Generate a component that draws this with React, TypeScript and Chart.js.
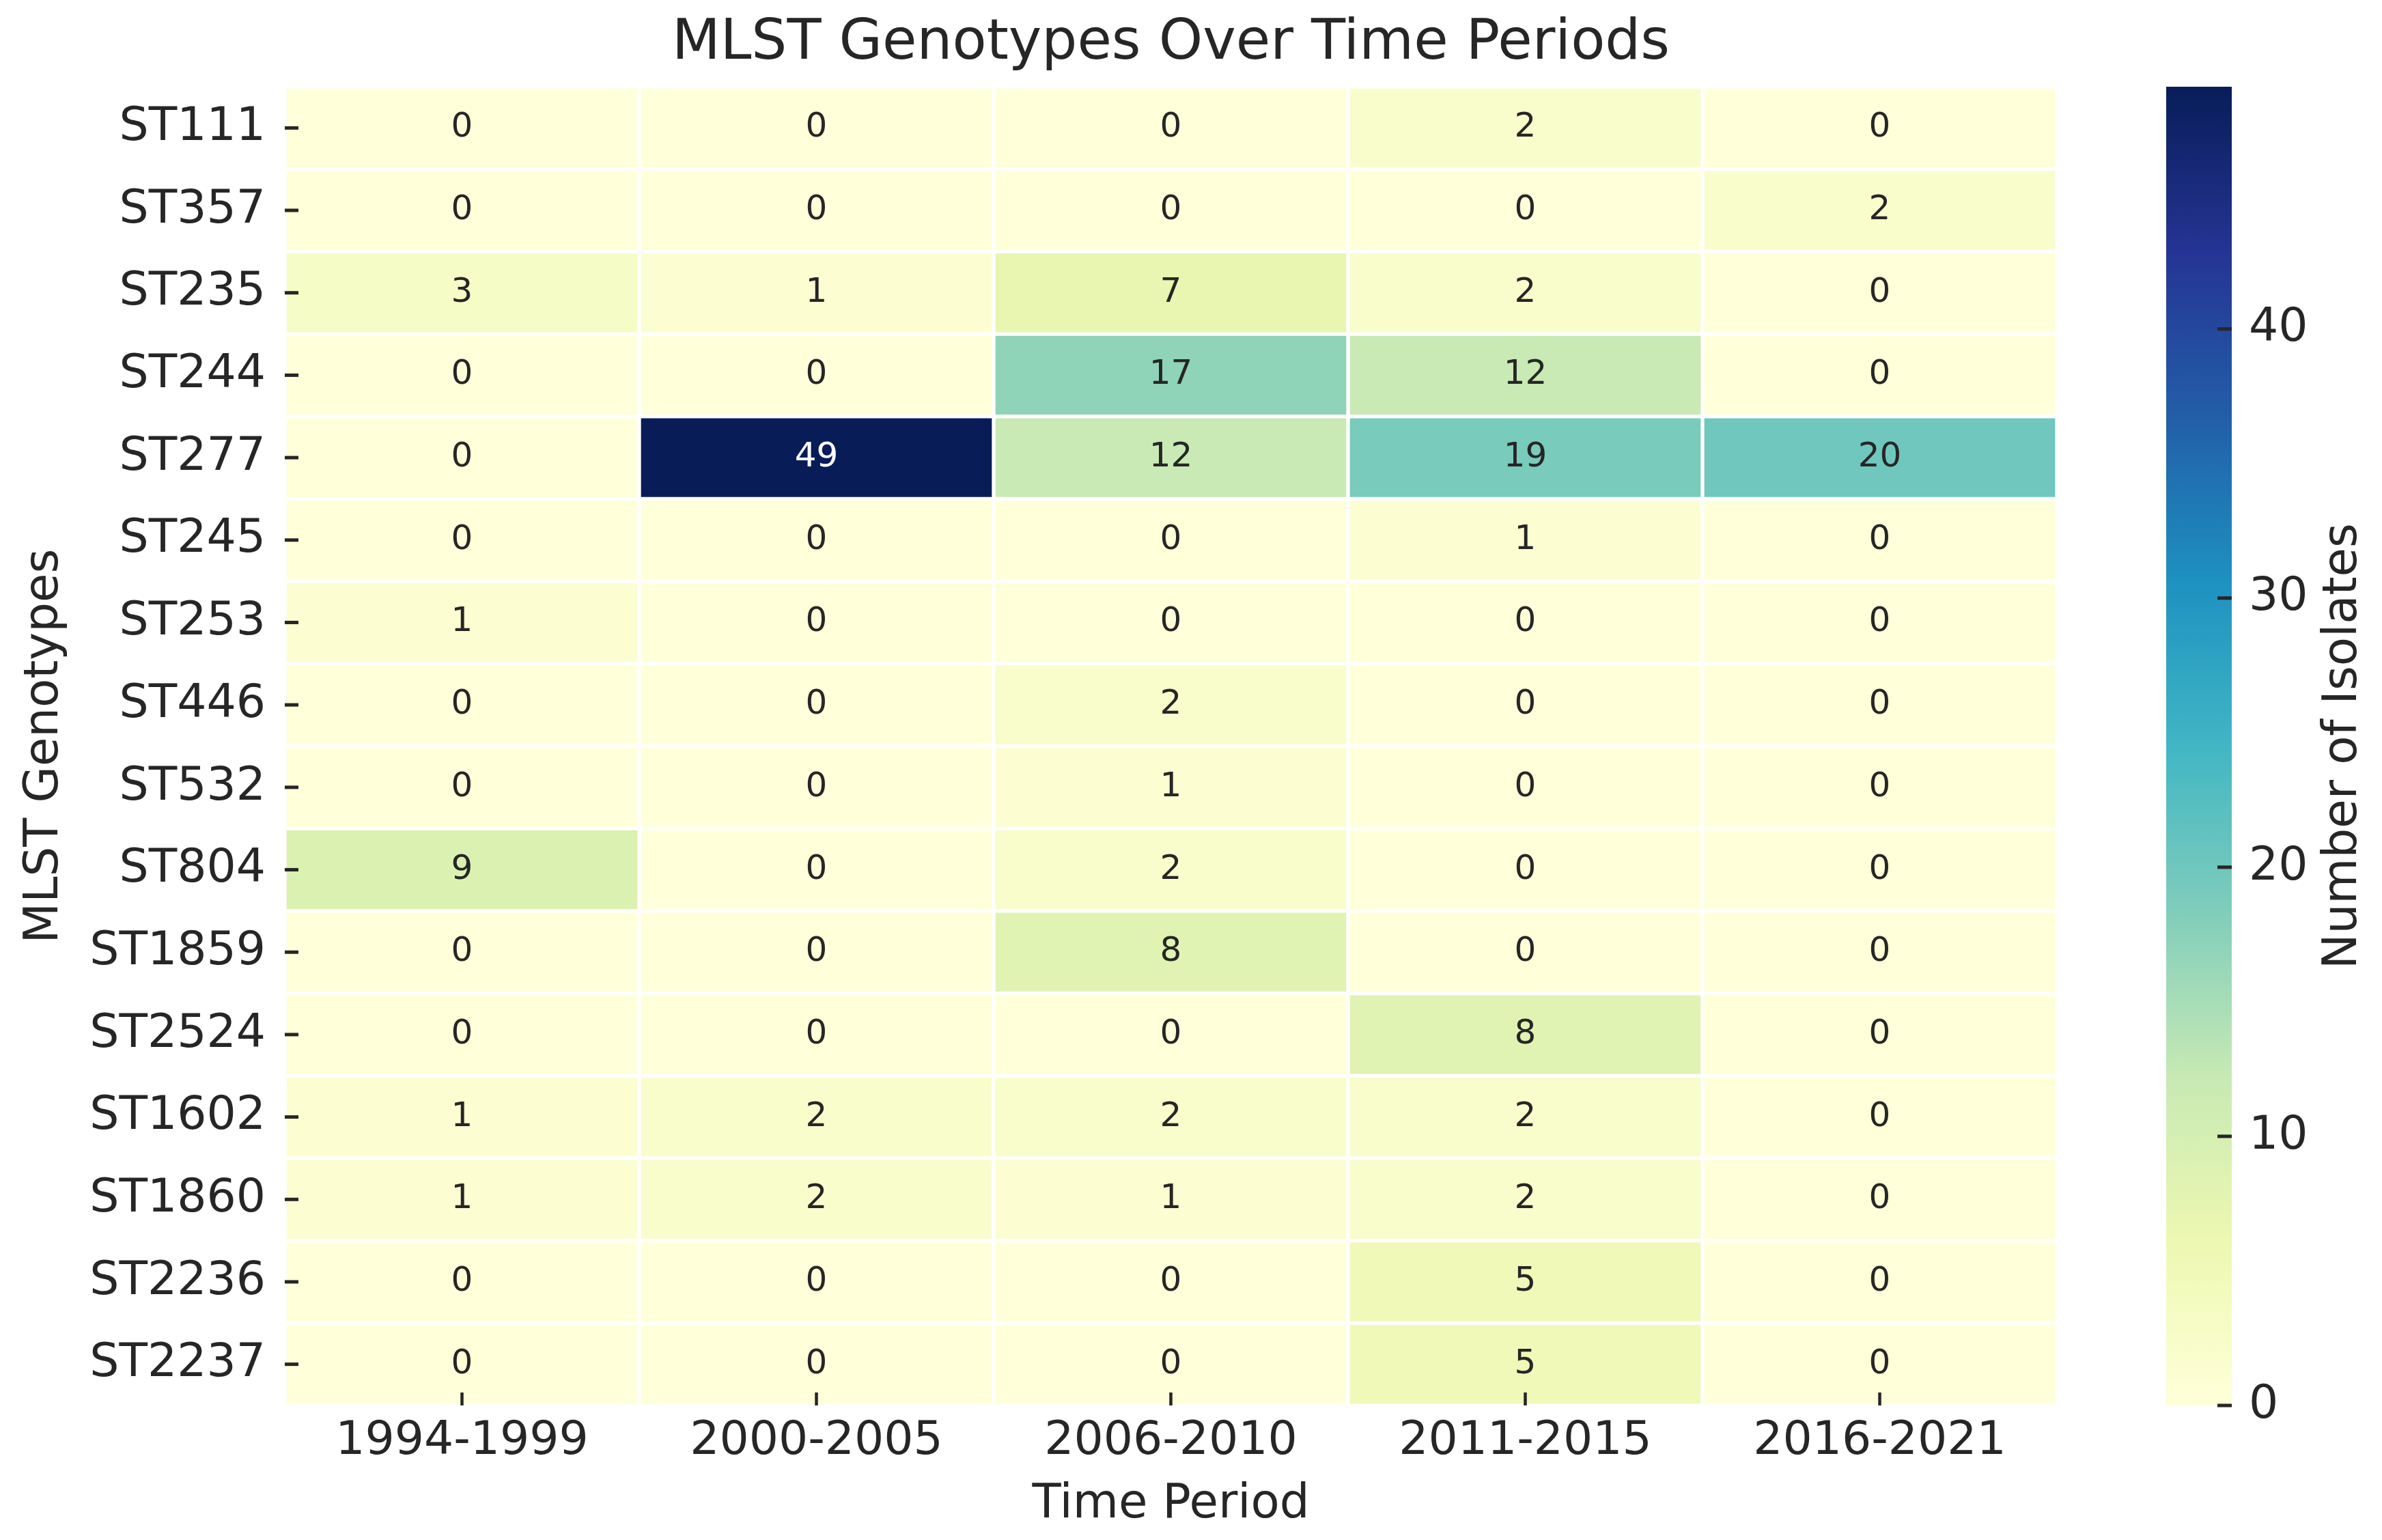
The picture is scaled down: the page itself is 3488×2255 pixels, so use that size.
import React, { useEffect, useRef } from "react";
import { Chart, registerables } from "chart.js";

Chart.register(...registerables);

const genotypes = [
  "ST111", "ST357", "ST235", "ST244", "ST277", "ST245", "ST253", "ST446",
  "ST532", "ST804", "ST1859", "ST2524", "ST1602", "ST1860", "ST2236", "ST2237",
];
const periods = ["1994-1999", "2000-2005", "2006-2010", "2011-2015", "2016-2021"];

const isolates1994_1999 = [0, 0, 3, 0, 0, 0, 1, 0, 0, 9, 0, 0, 1, 1, 0, 0];
const isolates2000_2005 = [0, 0, 1, 0, 49, 0, 0, 0, 0, 0, 0, 0, 2, 2, 0, 0];
const isolates2006_2010 = [0, 0, 7, 17, 12, 0, 0, 2, 1, 2, 8, 0, 2, 1, 0, 0];
const isolates2011_2015 = [2, 0, 2, 12, 19, 1, 0, 0, 0, 0, 0, 8, 2, 2, 5, 5];
const isolates2016_2021 = [0, 2, 0, 0, 20, 0, 0, 0, 0, 0, 0, 0, 0, 0, 0, 0];

const colorbarTicks = [0, 10, 20, 30, 40];

const series = [isolates1994_1999, isolates2000_2005, isolates2006_2010, isolates2011_2015, isolates2016_2021];
const vmax = Math.max(...series.map((s) => Math.max(...s)));

// YlGnBu colormap stops
const YLGNBU = ["#ffffd9", "#edf8b1", "#c7e9b4", "#7fcdbb", "#41b6c4", "#1d91c0", "#225ea8", "#253494", "#081d58"];

function hexToRgb(h: string): number[] {
  return [parseInt(h.slice(1, 3), 16), parseInt(h.slice(3, 5), 16), parseInt(h.slice(5, 7), 16)];
}

function cmapRgb(v: number): number[] {
  const t = Math.min(1, Math.max(0, v / vmax)) * (YLGNBU.length - 1);
  const i = Math.min(YLGNBU.length - 2, Math.floor(t));
  const f = t - i;
  const a = hexToRgb(YLGNBU[i]);
  const b = hexToRgb(YLGNBU[i + 1]);
  return a.map((c, k) => Math.round(c + (b[k] - c) * f));
}

function cmap(v: number): string {
  const [r, g, b] = cmapRgb(v);
  return `rgb(${r},${g},${b})`;
}

function textColorFor(v: number): string {
  const lin = cmapRgb(v).map((c) => {
    const s = c / 255;
    return s <= 0.03928 ? s / 12.92 : Math.pow((s + 0.055) / 1.055, 2.4);
  });
  const lum = 0.2126 * lin[0] + 0.7152 * lin[1] + 0.0722 * lin[2];
  return lum > 0.408 ? "#262626" : "#ffffff";
}

const FONT = "'DejaVu Sans'";
const TEXT = "#262626";

const heatmapExtras = {
  id: "heatmapExtras",
  afterDatasetsDraw(chart: any) {
    const ctx = chart.ctx as CanvasRenderingContext2D;
    const ca = chart.chartArea;
    ctx.save();

    // cell annotations
    ctx.font = `50px ${FONT}`;
    ctx.textAlign = "center";
    ctx.textBaseline = "middle";
    series.forEach((vals, i) => {
      const meta = chart.getDatasetMeta(i);
      meta.data.forEach((el: any, j: number) => {
        const { x, y, base } = el.getProps(["x", "y", "base"], true);
        const v = vals[j];
        ctx.fillStyle = textColorFor(v);
        ctx.fillText(String(v), (x + base) / 2, y);
      });
    });

    // tick marks (pointing inward)
    ctx.fillStyle = TEXT;
    const ys = chart.scales.y;
    ys.ticks.forEach((_: any, i: number) => {
      const py = ys.getPixelForTick(i);
      ctx.fillRect(ca.left, py - 2.5, 20, 5);
    });
    const xs = chart.scales.x;
    xs.ticks.forEach((_: any, i: number) => {
      const px = xs.getPixelForTick(i);
      ctx.fillRect(px - 2.25, ca.bottom - 19, 4.5, 19);
    });

    // colorbar
    const cb = chart.scales.cb;
    const top = cb.getPixelForValue(vmax);
    const bottom = cb.getPixelForValue(0);
    const left = ca.right + 160;
    const width = 96;
    const grad = ctx.createLinearGradient(0, bottom, 0, top);
    YLGNBU.forEach((c, k) => grad.addColorStop(k / (YLGNBU.length - 1), c));
    ctx.fillStyle = grad;
    ctx.fillRect(left, top, width, bottom - top);
    ctx.fillStyle = TEXT;
    cb.ticks.forEach((t: any) => {
      const py = cb.getPixelForValue(t.value);
      ctx.fillRect(left + width - 21, py - 2.5, 21, 5);
    });

    // colorbar label
    ctx.translate(cb.right - 48, (top + bottom) / 2);
    ctx.rotate(-Math.PI / 2);
    ctx.font = `69px ${FONT}`;
    ctx.fillStyle = TEXT;
    ctx.textAlign = "center";
    ctx.textBaseline = "middle";
    ctx.fillText("Number of Isolates", 0, 0);

    ctx.restore();
  },
};

export default function App() {
  const ref = useRef<HTMLCanvasElement>(null);

  useEffect(() => {
    if (!ref.current) return;
    const chart = new Chart(ref.current, {
      type: "bar",
      data: {
        labels: genotypes,
        datasets: series.map((vals, i) => ({
          label: periods[i],
          data: genotypes.map(() => 1),
          backgroundColor: vals.map((v) => cmap(v)),
          borderColor: "#ffffff",
          borderWidth: 3,
          borderSkipped: false,
          barPercentage: 1,
          categoryPercentage: 1,
          stack: "cells",
        })),
      },
      options: {
        indexAxis: "y",
        responsive: false,
        animation: false,
        devicePixelRatio: 1,
        layout: { padding: 0 },
        plugins: {
          legend: { display: false },
          tooltip: { enabled: false },
          title: {
            display: true,
            text: "MLST Genotypes Over Time Periods",
            fullSize: false,
            color: TEXT,
            font: { size: 82, family: FONT, weight: "normal" },
            padding: { top: 8, bottom: 12.6 },
          },
        },
        scales: {
          x: {
            type: "linear",
            position: "bottom",
            stacked: true,
            min: 0,
            max: periods.length,
            grid: { display: false, drawTicks: false },
            border: { display: false },
            afterBuildTicks: (s: any) => {
              s.ticks = periods.map((_, i) => ({ value: i + 0.5 }));
            },
            afterFit: (s: any) => {
              s.height = 189;
            },
            ticks: {
              autoSkip: false,
              maxRotation: 0,
              padding: 13,
              color: TEXT,
              font: { size: 68, family: FONT },
              callback: (_v: any, i: number) => periods[i],
            },
            title: {
              display: true,
              text: "Time Period",
              color: TEXT,
              font: { size: 69, family: FONT },
              padding: { top: 0, bottom: 2 },
            },
          },
          y: {
            type: "category",
            position: "left",
            stacked: true,
            grid: { display: false, drawTicks: false },
            border: { display: false },
            afterFit: (s: any) => {
              s.width = 409;
            },
            ticks: {
              autoSkip: false,
              padding: 28,
              color: TEXT,
              font: { size: 68, family: FONT },
            },
            title: {
              display: true,
              text: "MLST Genotypes",
              color: TEXT,
              font: { size: 69, family: FONT },
              padding: { top: 17, bottom: 0 },
            },
          },
          cb: {
            type: "linear",
            axis: "y",
            position: "right",
            offset: false,
            grace: 0,
            bounds: "data",
            min: 0,
            max: vmax,
            grid: {
              display: true,
              offset: false,
              drawOnChartArea: false,
              drawTicks: true,
              tickLength: 281,
              color: "rgba(0,0,0,0)",
            },
            border: { display: false },
            afterBuildTicks: (s: any) => {
              s.ticks = colorbarTicks.map((v) => ({ value: v }));
            },
            afterFit: (s: any) => {
              s.width = 468;
            },
            ticks: {
              padding: 0,
              color: TEXT,
              font: { size: 68, family: FONT },
            },
          },
        },
      } as any,
      plugins: [heatmapExtras],
    });
    return () => chart.destroy();
  }, []);

  return (
    <canvas
      ref={ref}
      width={3472}
      height={2239}
      style={{ display: "block", width: 3472, height: 2239 }}
    />
  );
}
